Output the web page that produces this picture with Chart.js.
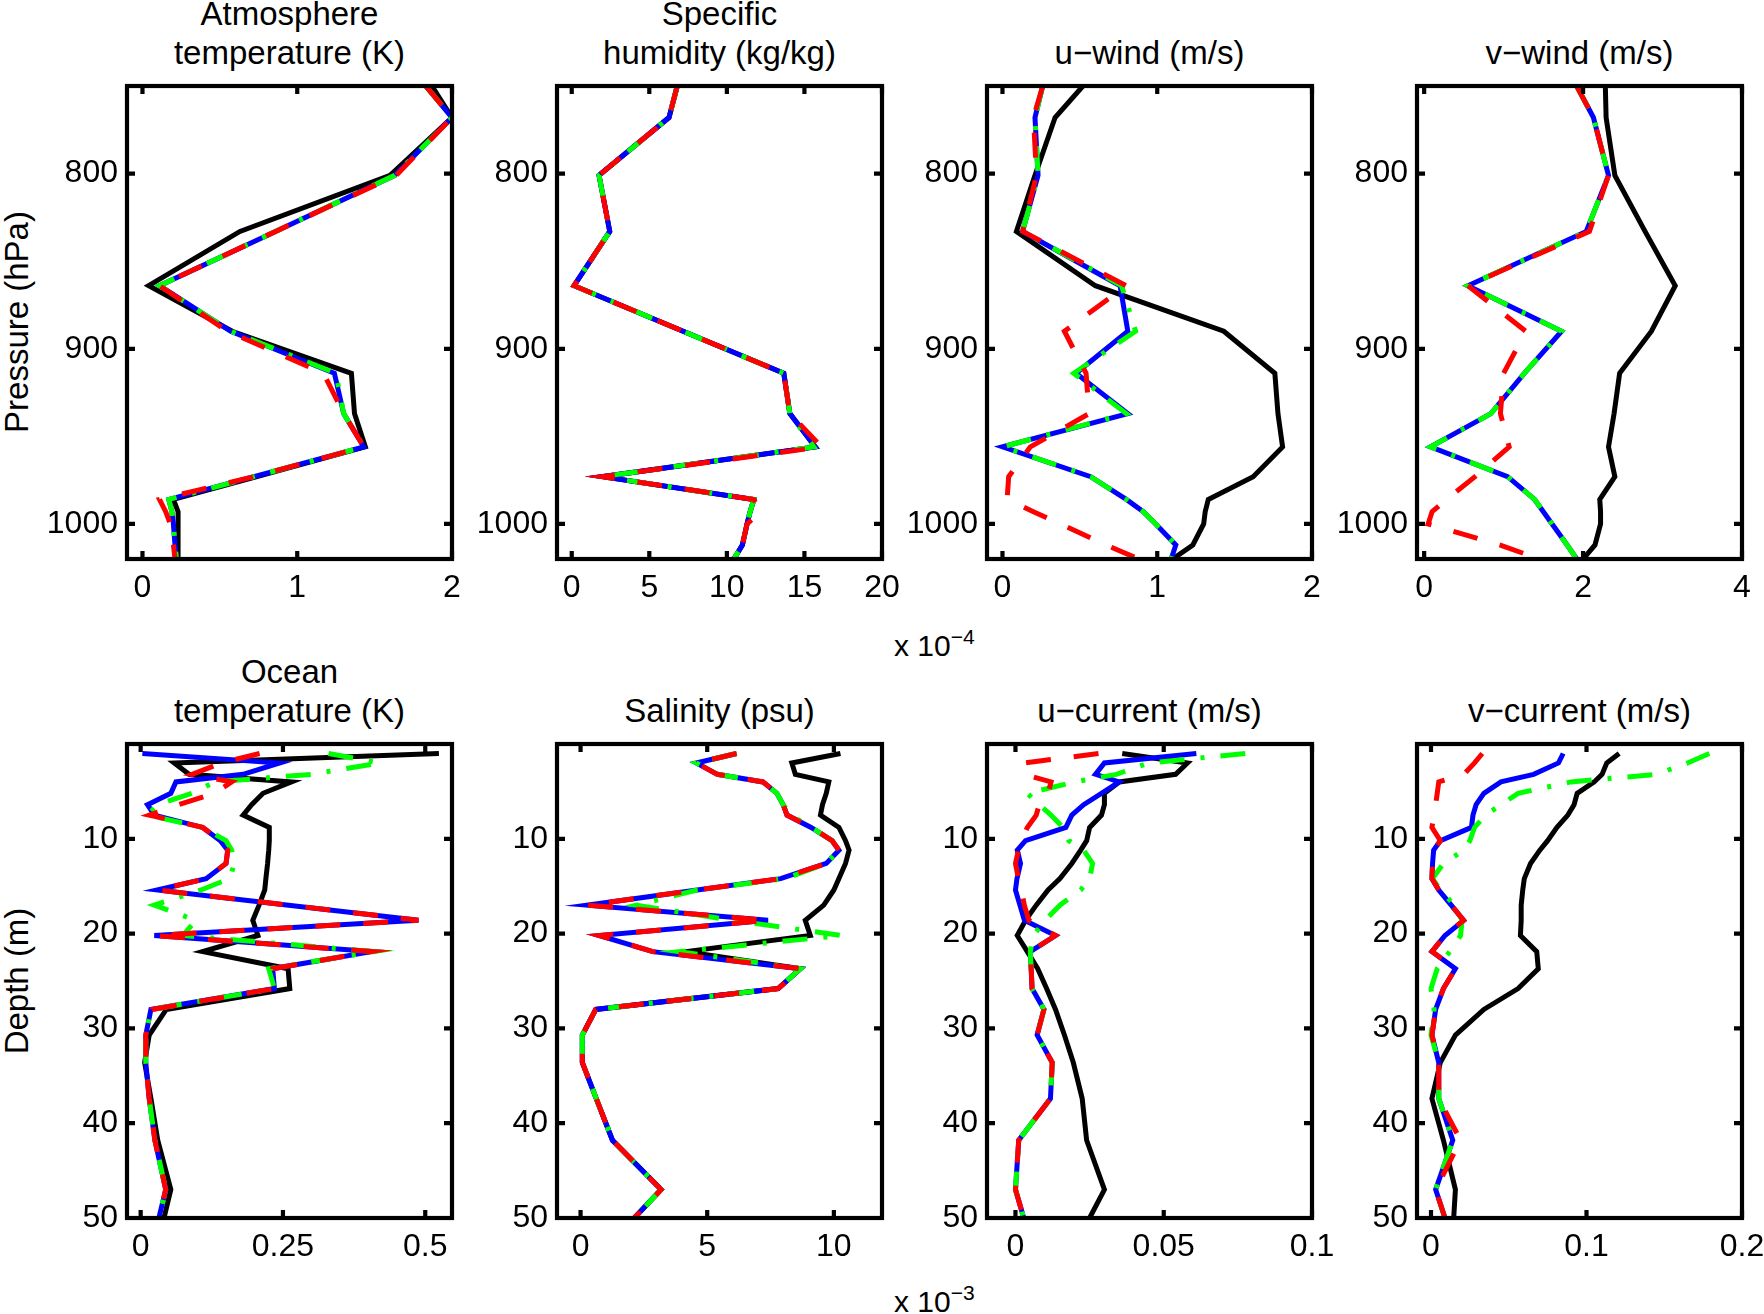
<!DOCTYPE html>
<html>
<head>
<meta charset="utf-8">
<title>Profiles</title>
<script src="https://cdn.jsdelivr.net/npm/chart.js@4.4.1/dist/chart.umd.min.js"></script>
<style>
body { margin: 0; background: #fff; }
#fig { position: relative; width: 1764px; height: 1314px; overflow: hidden; background: #fff;
       font-family: "Liberation Sans", Arial, Helvetica, sans-serif; color: #000; }
.ttl { position: absolute; width: 420px; text-align: center; font-size: 33px; line-height: 38.5px; white-space: nowrap; }
.ylab { position: absolute; font-size: 33px; white-space: nowrap; transform: translate(-50%, -50%) rotate(-90deg); }
.expo { position: absolute; font-size: 30px; line-height: 34px; white-space: nowrap; }
.expo sup { font-size: 21px; vertical-align: baseline; position: relative; top: -12px; }
canvas { position: absolute; }
</style>
</head>
<body>
<div id="fig">
  <div class="ylab" style="left:17px; top:322px;">Pressure (hPa)</div>
  <div class="ylab" style="left:17px; top:981px;">Depth (m)</div>
  <div class="expo" style="left:894px; top:629px;">x 10<sup>−4</sup></div>
  <div class="expo" style="left:894px; top:1285px;">x 10<sup>−3</sup></div>
</div>
<script>
// vertical levels
const pressureLevels = [750, 768, 801, 833, 864, 890, 914, 937, 956, 973, 986, 993, 1000, 1012, 1020];
const depthLevels = [1, 2, 3.2, 4, 5.2, 6.4, 7.5, 8.8, 10.2, 11.2, 12.6, 14.2, 15.4, 17, 18.6, 20.2, 21.9, 23.7, 25.8, 28, 30.7, 33.6, 37.4, 41.8, 47, 50];

// atmosphere temperature (K)
const atmTempBlack = [1.87, 2.0, 1.6, 0.63, 0.04, 0.58, 1.35, 1.37, 1.44, 0.74, 0.2, 0.23, 0.23, 0.23, 0.23];
const atmTempBlue  = [1.83, 2.0, 1.63, 0.86, 0.11, 0.57, 1.24, 1.30, 1.43, 0.72, 0.17, 0.19, 0.2, 0.21, 0.22];
const atmTempGreen = [1.83, 2.0, 1.63, 0.86, 0.11, 0.57, 1.25, 1.30, 1.43, 0.72, 0.17, 0.19, 0.2, 0.21, 0.22];
const atmTempRed   = [1.83, 2.0, 1.64, 0.86, 0.11, 0.55, 1.17, 1.30, 1.43, 0.72, 0.11, 0.15, 0.18, 0.2, 0.21];

// specific humidity (x 10^-4 kg/kg)
const humBlack = [6.8, 6.27, 1.76, 2.45, 0.15, 7.18, 13.67, 14.06, 15.7, 1.97, 11.74, 11.5, 11.3, 11.0, 10.45];
const humBlue  = [6.8, 6.27, 1.76, 2.45, 0.15, 7.18, 13.67, 14.06, 15.7, 1.97, 11.74, 11.5, 11.3, 11.0, 10.45];
const humGreen = [6.8, 6.27, 1.76, 2.45, 0.15, 7.18, 13.67, 14.06, 15.6, 1.97, 11.74, 11.5, 11.3, 11.0, 10.45];
const humRed   = [6.8, 6.27, 1.76, 2.45, 0.15, 7.18, 13.67, 14.06, 16.1, 1.97, 11.74, 12.17, 11.3, 11.0, 10.45];

// u-wind (m/s)
const uWindBlack = [0.52, 0.34, 0.21, 0.09, 0.6, 1.43, 1.76, 1.78, 1.81, 1.62, 1.33, 1.31, 1.3, 1.23, 1.1];
const uWindBlue  = [0.26, 0.21, 0.23, 0.13, 0.76, 0.81, 0.475, 0.81, 0.0, 0.57, 0.8, 0.91, 0.99, 1.12, 1.09];
const uWindGreen = [0.26, 0.21, 0.23, 0.13, 0.77, 0.86, 0.46, 0.8, 0.0, 0.57, 0.8, 0.91, 0.99, 1.12, 1.09];
const uWindRed   = [0.26, 0.2, 0.22, 0.13, 0.8, 0.4, 0.54, 0.56, 0.18, 0.04, 0.03, 0.2, 0.375, 0.67, 0.88];

// v-wind (m/s)
const vWindBlack = [2.28, 2.29, 2.4, 2.78, 3.16, 2.86, 2.46, 2.39, 2.32, 2.4, 2.21, 2.22, 2.22, 2.15, 2.0];
const vWindBlue  = [1.92, 2.13, 2.32, 2.04, 0.55, 1.73, 1.26, 0.84, 0.08, 1.05, 1.39, 1.5, 1.61, 1.8, 1.92];
const vWindGreen = [1.92, 2.13, 2.32, 2.04, 0.55, 1.73, 1.26, 0.84, 0.08, 1.05, 1.39, 1.5, 1.61, 1.8, 1.92];
const vWindRed   = [1.92, 2.13, 2.32, 2.08, 0.55, 1.28, 1.0, 0.96, 1.07, 0.64, 0.28, 0.1, 0.05, 0.95, 1.45];

// ocean temperature (K)
const oceTempBlack = [0.524, 0.059, 0.085, 0.265, 0.215, 0.195, 0.18, 0.226, 0.226, 0.225, 0.223, 0.22, 0.218, 0.208, 0.197, 0.206, 0.109, 0.259, 0.262, 0.045, 0.015, 0.007, 0.018, 0.03, 0.053, 0.041];
const oceTempBlue  = [0.003, 0.244, 0.18, 0.062, 0.053, 0.012, 0.024, 0.109, 0.14, 0.153, 0.15, 0.115, 0.029, 0.26, 0.488, 0.024, 0.406, 0.232, 0.235, 0.018, 0.009, 0.009, 0.015, 0.025, 0.044, 0.032];
const oceTempGreen = [0.33, 0.42, 0.3, 0.13, 0.09, 0.03, 0.012, 0.109, 0.15, 0.16, 0.165, 0.156, 0.106, 0.024, 0.097, 0.074, 0.41, 0.225, 0.235, 0.018, 0.009, 0.009, 0.015, 0.025, 0.044, 0.032];
const oceTempRed   = [0.209, 0.142, 0.09, 0.16, 0.13, 0.066, 0.015, 0.109, 0.14, 0.153, 0.15, 0.115, 0.029, 0.26, 0.488, 0.024, 0.406, 0.232, 0.235, 0.02, 0.009, 0.009, 0.015, 0.025, 0.044, 0.032];

// salinity (x 10^-3 psu)
const salBlack = [10.26, 8.34, 8.48, 9.8, 9.7, 9.55, 9.47, 10.2, 10.46, 10.6, 10.46, 10.2, 10.0, 9.6, 8.87, 9.07, 4.17, 8.68, 7.8, 0.6, 0.07, 0.07, 0.62, 1.26, 3.18, 2.12];
const salBlue  = [6.16, 4.57, 5.4, 7.2, 7.75, 8.0, 8.15, 9.1, 9.93, 10.2, 9.7, 7.9, 4.6, 0.26, 7.4, 0.73, 2.85, 8.68, 7.8, 0.6, 0.07, 0.07, 0.62, 1.26, 3.18, 2.12];
const salGreen = [6.16, 4.57, 5.4, 7.2, 7.75, 8.0, 8.3, 9.1, 9.93, 10.2, 9.7, 8.1, 4.6, 2.2, 6.0, 10.3, 3.9, 8.68, 7.8, 0.6, 0.07, 0.07, 0.62, 1.26, 3.18, 2.12];
const salRed   = [6.16, 4.57, 5.4, 7.2, 7.75, 8.0, 8.15, 9.1, 9.93, 10.2, 9.7, 7.9, 4.6, 0.26, 7.4, 0.73, 2.85, 8.68, 7.8, 0.6, 0.07, 0.07, 0.62, 1.26, 3.18, 2.12];

// u-current (m/s)
const uCurBlack = [0.036, 0.058, 0.054, 0.035, 0.030, 0.030, 0.029, 0.025, 0.024, 0.022, 0.019, 0.015, 0.011, 0.007, 0.0034, 0.0006, 0.004, 0.0075, 0.0105, 0.0135, 0.0165, 0.0195, 0.0225, 0.024, 0.030, 0.025];
const uCurBlue  = [0.061, 0.030, 0.027, 0.035, 0.029, 0.023, 0.019, 0.017, 0.0034, 0.0006, 0.0017, 0.0005, 0.0, 0.0015, 0.003, 0.0135, 0.005, 0.0053, 0.0056, 0.0096, 0.0073, 0.0124, 0.0118, 0.0011, 0.0, 0.0028];
const uCurGreen = [0.0775, 0.045, 0.034, 0.02, 0.004, 0.008, 0.012, 0.016, 0.018, 0.023, 0.026, 0.025, 0.022, 0.015, 0.01, 0.006, 0.005, 0.0053, 0.0056, 0.0096, 0.0073, 0.0124, 0.0118, 0.0011, 0.0, 0.0028];
const uCurRed   = [0.028, 0.003, 0.003, 0.012, 0.011, 0.008, 0.007, 0.004, 0.002, 0.001, 0.0, 0.001, 0.002, 0.003, 0.0045, 0.0135, 0.005, 0.0053, 0.0056, 0.0096, 0.0073, 0.0124, 0.0118, 0.0011, 0.0, 0.0028];

// v-current (m/s)
const vCurBlack = [0.121, 0.113, 0.110, 0.105, 0.094, 0.092, 0.088, 0.081, 0.075, 0.070, 0.064, 0.060, 0.059, 0.058, 0.058, 0.0575, 0.068, 0.069, 0.056, 0.034, 0.0157, 0.006, 0.0006, 0.008, 0.0157, 0.0146];
const vCurBlue  = [0.085, 0.082, 0.066, 0.045, 0.034, 0.029, 0.027, 0.026, 0.006, 0.0017, 0.001, 0.0006, 0.005, 0.013, 0.021, 0.009, 0.0006, 0.0157, 0.008, 0.003, 0.0006, 0.005, 0.005, 0.014, 0.003, 0.009];
const vCurGreen = [0.179, 0.165, 0.145, 0.09, 0.056, 0.045, 0.035, 0.028, 0.025, 0.021, 0.008, 0.001, 0.006, 0.015, 0.02, 0.019, 0.012, 0.004, 0.0, 0.002, 0.0, 0.005, 0.005, 0.014, 0.003, 0.009];
const vCurRed   = [0.033, 0.028, 0.021, 0.005, 0.004, 0.003, 0.002, 0.0006, 0.006, 0.0017, 0.001, 0.0006, 0.005, 0.013, 0.021, 0.009, 0.0006, 0.0157, 0.008, 0.003, 0.0006, 0.005, 0.005, 0.019, 0.003, 0.009];

// tick labels
const pressureTicks = [800, 900, 1000];
const depthTicks = [10, 20, 30, 40, 50];
const atmTempTicks = [0, 1, 2];
const humTicks = [0, 5, 10, 15, 20];
const uWindTicks = [0, 1, 2];
const vWindTicks = [0, 2, 4];
const oceTempTicks = [0, 0.25, 0.5];
const salTicks = [0, 5, 10];
const uCurTicks = [0, 0.05, 0.1];
const vCurTicks = [0, 0.1, 0.2];

const panelTitles = [
  ["Atmosphere", "temperature (K)"], ["Specific", "humidity (kg/kg)"], ["u−wind (m/s)"], ["v−wind (m/s)"],
  ["Ocean", "temperature (K)"], ["Salinity (psu)"], ["u−current (m/s)"], ["v−current (m/s)"]
];

// layout in page pixels
const colLeft = [127, 557, 987, 1417];
const boxW = 325;
const rowTop = [86, 744];
const rowH = [473, 474];
const titleBottom = [72, 730];
const PL = 120, PT = 20, PR = 34, PB = 60;
const FONT = '"Liberation Sans", Arial, Helvetica, sans-serif';

Chart.defaults.font.family = FONT;
Chart.defaults.color = "#000";

// box with inward ticks on all four sides, drawn over the lines
const framePlugin = {
  id: "frame",
  afterDatasetsDraw(chart) {
    const ctx = chart.ctx, a = chart.chartArea;
    const sx = chart.scales.x, sy = chart.scales.y;
    ctx.save();
    ctx.strokeStyle = "#000";
    ctx.lineWidth = 4.2;
    ctx.lineCap = "butt";
    ctx.beginPath();
    sx.ticks.forEach(function (t) {
      const px = sx.getPixelForValue(t.value);
      ctx.moveTo(px, a.bottom); ctx.lineTo(px, a.bottom - 8);
      ctx.moveTo(px, a.top); ctx.lineTo(px, a.top + 8);
    });
    sy.ticks.forEach(function (t) {
      const py = sy.getPixelForValue(t.value);
      ctx.moveTo(a.left, py); ctx.lineTo(a.left + 8, py);
      ctx.moveTo(a.right, py); ctx.lineTo(a.right - 8, py);
    });
    ctx.stroke();
    ctx.strokeRect(a.left, a.top, a.right - a.left, a.bottom - a.top);
    ctx.restore();
  }
};

function profile(levels, vals) {
  return levels.map(function (l, i) { return { x: vals[i], y: l }; });
}

function series(levels, black, blue, green, red) {
  const common = { showLine: true, pointRadius: 0, borderWidth: 5, tension: 0, fill: false, borderCapStyle: "butt" };
  return [
    Object.assign({ data: profile(levels, red), borderColor: "#ff0000", borderDash: [25, 23], order: 0 }, common),
    Object.assign({ data: profile(levels, green), borderColor: "#00ff00", borderDash: [25, 16, 4, 16], order: 1 }, common),
    Object.assign({ data: profile(levels, blue), borderColor: "#0000ff", order: 2 }, common),
    Object.assign({ data: profile(levels, black), borderColor: "#000000", order: 3 }, common)
  ];
}

function fmt(v) { return String(+Number(v).toFixed(4)); }

function makePanel(idx, levels, yRange, yTicks, xRange, xTicks, sets) {
  const col = idx % 4, row = Math.floor(idx / 4);
  const fig = document.getElementById("fig");

  const lines = panelTitles[idx];
  const t = document.createElement("div");
  t.className = "ttl";
  t.style.left = (colLeft[col] + boxW / 2 - 210) + "px";
  t.style.top = (titleBottom[row] - lines.length * 38.5) + "px";
  t.innerHTML = lines.join("<br>");
  fig.appendChild(t);

  const cv = document.createElement("canvas");
  cv.width = PL + boxW + PR;
  cv.height = PT + rowH[row] + PB;
  cv.style.left = (colLeft[col] - PL) + "px";
  cv.style.top = (rowTop[row] - PT) + "px";
  fig.appendChild(cv);

  new Chart(cv.getContext("2d"), {
    type: "scatter",
    data: { datasets: sets },
    options: {
      responsive: false,
      animation: false,
      events: [],
      layout: { padding: { top: PT, right: PR, left: 0, bottom: 0 } },
      plugins: { legend: { display: false }, tooltip: { enabled: false } },
      scales: {
        x: {
          type: "linear", min: xRange[0], max: xRange[1],
          grid: { display: false, drawTicks: false }, border: { display: false },
          ticks: { font: { size: 32 }, color: "#000", padding: 10, autoSkip: false, maxRotation: 0, callback: fmt },
          afterBuildTicks: function (s) { s.ticks = xTicks.map(function (v) { return { value: v }; }); },
          afterFit: function (s) { s.height = PB; s.paddingLeft = 0; s.paddingRight = 0; s.paddingTop = 0; s.paddingBottom = 0; }
        },
        y: {
          type: "linear", reverse: true, min: yRange[0], max: yRange[1],
          grid: { display: false, drawTicks: false }, border: { display: false },
          ticks: { font: { size: 32 }, color: "#000", padding: 9, autoSkip: false, callback: fmt },
          afterBuildTicks: function (s) { s.ticks = yTicks.map(function (v) { return { value: v }; }); },
          afterFit: function (s) { s.width = PL; s.paddingLeft = 0; s.paddingRight = 0; s.paddingTop = 0; s.paddingBottom = 0; }
        }
      }
    },
    plugins: [framePlugin]
  });
}

const pRange = [750, 1020];
const dRange = [0, 50];

makePanel(0, pressureLevels, pRange, pressureTicks, [-0.1, 2], atmTempTicks,
  series(pressureLevels, atmTempBlack, atmTempBlue, atmTempGreen, atmTempRed));
makePanel(1, pressureLevels, pRange, pressureTicks, [-0.95, 20], humTicks,
  series(pressureLevels, humBlack, humBlue, humGreen, humRed));
makePanel(2, pressureLevels, pRange, pressureTicks, [-0.1, 2], uWindTicks,
  series(pressureLevels, uWindBlack, uWindBlue, uWindGreen, uWindRed));
makePanel(3, pressureLevels, pRange, pressureTicks, [-0.09, 4], vWindTicks,
  series(pressureLevels, vWindBlack, vWindBlue, vWindGreen, vWindRed));
makePanel(4, depthLevels, dRange, depthTicks, [-0.024, 0.547], oceTempTicks,
  series(depthLevels, oceTempBlack, oceTempBlue, oceTempGreen, oceTempRed));
makePanel(5, depthLevels, dRange, depthTicks, [-0.93, 11.9], salTicks,
  series(depthLevels, salBlack, salBlue, salGreen, salRed));
makePanel(6, depthLevels, dRange, depthTicks, [-0.0096, 0.1], uCurTicks,
  series(depthLevels, uCurBlack, uCurBlue, uCurGreen, uCurRed));
makePanel(7, depthLevels, dRange, depthTicks, [-0.009, 0.2], vCurTicks,
  series(depthLevels, vCurBlack, vCurBlue, vCurGreen, vCurRed));
</script>
</body>
</html>
